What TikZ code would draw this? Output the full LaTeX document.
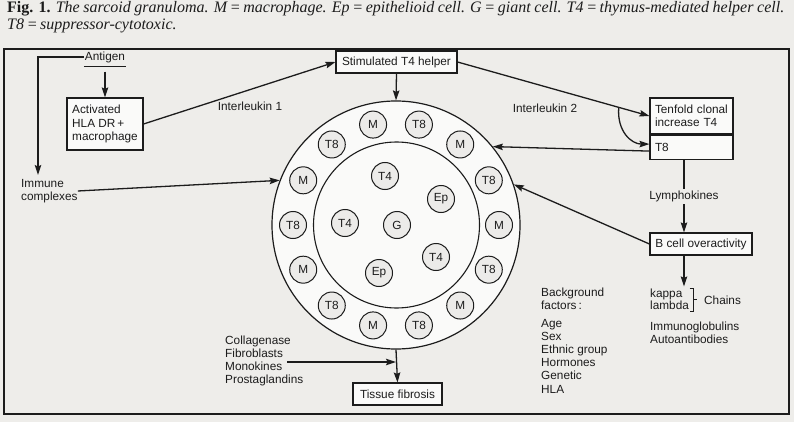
\documentclass[tikz,border=0pt]{standalone}
\usepackage{fontspec}
\setmainfont{Liberation Sans}
\newfontfamily\capfont{Liberation Serif}
\usepackage{tikz}
\usetikzlibrary{arrows.meta,calc}
\definecolor{paper}{RGB}{238,237,234}
\definecolor{pale}{RGB}{250,250,249}
\definecolor{cellgrey}{RGB}{236,235,233}
\definecolor{ink}{RGB}{28,28,28}

\begin{document}
\begin{tikzpicture}[x=1pt,y=-1pt,
every node/.style={font=\fontsize{11.8}{13.2}\selectfont,text=ink},
box/.style={draw=ink,fill=pale,line width=1.1pt,align=left,inner sep=0pt},
cell/.style={circle,draw=ink,fill=cellgrey,line width=1pt,minimum size=27pt,inner sep=0pt},
txt/.style={align=left,inner sep=0pt},
arr/.style={draw=ink,line width=1.3pt,-{Stealth[length=10pt,width=6.5pt,inset=1.5pt]}},
ln/.style={draw=ink,line width=1.2pt}]

% Frame
\fill[paper] (0,0) rectangle (794,422);
\useasboundingbox (0,0) rectangle (794,422);
\draw[ink,line width=1.2pt] (4,49) rectangle (789,414);
\draw[ink,line width=2pt] (4,414) -- (789,414);

% Caption
\node[anchor=north west,inner sep=0pt,align=left,font=\capfont\fontsize{16}{17}\selectfont] (caption) at (7,1)
	{\makebox[777pt][s]{\textbf{Fig. 1.} \textit{The sarcoid granuloma. M\,=\,macrophage. Ep\,=\,epithelioid cell. G\,=\,giant cell. T4\,=\,thymus-mediated helper cell.}}\\
	\textit{T8\,=\,suppressor-cytotoxic.}};

% Granuloma
\node[circle,draw=ink,fill=pale,line width=1.2pt,minimum size=248pt,inner sep=0pt] (ring) at (396,225) {};
\node[circle,draw=ink,fill=pale,line width=1.1pt,minimum size=166pt,inner sep=0pt] (core) at (396.5,225) {};
\foreach \i in {0,...,13}{
	\pgfmathsetmacro\ang{77.1429+25.7143*\i}
	\ifodd\i \def\lab{M}\else \def\lab{T8}\fi
	\node[cell] (o\i) at ($(ring.center)+(\ang:103pt)$) {\lab};
}
\node[cell] (t4a) at (385,176) {T4};
\node[cell] (epa) at (441,199) {Ep};
\node[cell] (t4b) at (345,223) {T4};
\node[cell] (g) at (397,225) {G};
\node[cell] (t4c) at (436,257) {T4};
\node[cell] (epb) at (379,273) {Ep};

% Nodes
\node[txt,inner ysep=4pt,inner xsep=1pt] (antigen) at (105,57) {Antigen};
\node[box,minimum width=76pt,minimum height=52pt] (macro) at (105,124) {Activated\\HLA DR\,+\\macrophage};
\node[box,minimum width=121pt,minimum height=22pt] (helper) at (396.5,62) {Stimulated T4 helper};
\node[box,text width=73pt,inner xsep=5pt,minimum height=36pt] (tenfold) at (691.5,116) {Tenfold clonal\\increase T4};
\node[box,text width=73pt,inner xsep=5pt,minimum height=24pt,anchor=north] (t8) at (tenfold.south) {T8};
\node[box,minimum width=102pt,minimum height=22pt] (bcell) at (701,244) {B cell overactivity};
\node[box,minimum width=89pt,minimum height=22pt] (fibrosis) at (397.5,394) {Tissue fibrosis};
\node[txt,anchor=west] (immune) at (21,191) {Immune\\complexes};
\node[txt] (il1) at (250,106) {Interleukin 1};
\node[txt] (il2) at (545,108) {Interleukin 2};
\node[txt,anchor=west] (collagen) at (225,361) {Collagenase\\Fibroblasts\\Monokines\\Prostaglandins};
\node[txt,anchor=west] (bgfact) at (541,299) {Background\\factors\,:};
\node[txt,anchor=west] (factors) at (541,356) {Age\\Sex\\Ethnic group\\Hormones\\Genetic\\HLA};
\node[txt,anchor=west,font=\fontsize{11.8}{12}\selectfont] (kappa) at (650,299) {kappa\\lambda};
\node[txt,anchor=west] (chains) at (704,300) {Chains};
\node[txt,anchor=west] (immuno) at (650,332.5) {Immunoglobulins\\Autoantibodies};
\coordinate (drop) at (38,175);
\coordinate (fibstart) at (287,362);
\coordinate (lymcol) at ([xshift=-7.5pt]t8.south);

% Connectors
\draw[ln] (antigen.south west) -- (antigen.south east);
\draw[arr,shorten <=5pt] (antigen.south) -- (macro.north);
\draw[arr] (antigen.west) -| (drop);
\draw[arr] (immune.east) -- (ring.159);
\draw[arr] (macro.east) -- (helper.west);
\draw[arr] (helper.south) -- (ring.north);
\draw[arr] (helper.east) -- coordinate[pos=0.84] (bend) (tenfold.west);
\draw[arr] (bend) .. controls +(-2,24) and +(-18,0) .. ([yshift=3pt]t8.west);
\draw[arr] ([yshift=-4pt]t8.west) -- (ring.39);
\draw[arr] (lymcol) -- node[fill=paper,inner sep=2pt] (lymph) {Lymphokines} (lymcol |- bcell.north);
\draw[arr] (bcell.west) -- (ring.19);
\draw[arr] (lymcol |- bcell.south) -- ([yshift=2pt]lymcol |- kappa.north);
\draw[ink,line width=1pt] ([xshift=0.5pt]kappa.north east) -- ++(3.5,0) -- ++(0,23) -- ++(-3.5,0) ++(3.5,-11.5) -- ++(4,0);
\draw[arr] (fibstart) -- (fibstart -| ring.south);
\draw[arr] (ring.south) -- (fibrosis.north);

\end{tikzpicture}
\end{document}
